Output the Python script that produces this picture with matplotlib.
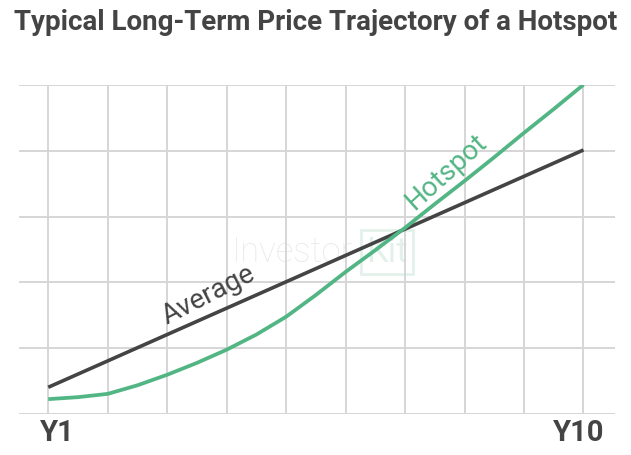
import numpy as np
import matplotlib
matplotlib.use('Agg')
import matplotlib.pyplot as plt

years = [1, 2, 3, 4, 5, 6, 7, 8, 9, 10]
average = [0.41, 0.81, 1.21, 1.61, 2.01, 2.41, 2.81, 3.21, 3.61, 4.01]
# hotspot at half-year steps
hotspot_x = [1, 1.5, 2, 2.5, 3, 3.5, 4, 4.5, 5, 5.5, 6, 6.5, 7, 7.5, 8, 8.5, 9, 9.5, 10]
hotspot = [0.23, 0.26, 0.31, 0.44, 0.60, 0.78, 0.98, 1.21, 1.48, 1.81, 2.16,
           2.49, 2.83, 3.19, 3.54, 3.90, 4.27, 4.63, 5.0]
end_labels = ['Y1', 'Y10']

dark = '#444444'
green = '#52b584'

plt.rcParams['font.family'] = ['Roboto', 'DejaVu Sans']

fig = plt.figure(figsize=(6.31, 4.55), dpi=100)
ax = fig.add_axes([19.3 / 631, 1 - 414.3 / 455, (615 - 19.3) / 631, (414.3 - 84.7) / 455])

ax.plot(years, average, color=dark, lw=2.6, solid_capstyle='butt', zorder=3)
ax.plot(hotspot_x, hotspot, color=green, lw=2.7, solid_capstyle='butt',
        solid_joinstyle='round', zorder=3)

ax.set_xlim(0.513, 10.53)
ax.set_ylim(0, 5)
ax.set_xticks(years)
ax.set_yticks(range(6))
ax.tick_params(length=0, labelbottom=False, labelleft=False)
ax.grid(True, color='#d6d6d6', lw=1.4, zorder=0)
for s in ax.spines.values():
    s.set_visible(False)

ax.text(1.16, -0.29, end_labels[0], ha='center', va='center', fontsize=21,
        fontweight='bold', color=dark)
ax.text(9.92, -0.29, end_labels[1], ha='center', va='center', fontsize=21,
        fontweight='bold', color=dark)

ax.text(3.69, 1.81, 'Average', rotation=27, ha='center', va='center',
        fontsize=20, color=dark, rotation_mode='anchor')
ax.text(7.70, 3.68, 'Hotspot', rotation=42, ha='center', va='center',
        fontsize=20, color=green, rotation_mode='anchor')

# faint watermark
ax.text(5.10, 2.46, 'Investor', ha='center', va='center', fontsize=25,
        color='#eaeaea', fontweight='light', zorder=1)
ax.text(6.69, 2.46, 'Kit', ha='center', va='center', fontsize=25,
        color='#e3f1ea', zorder=1,
        bbox=dict(boxstyle='square,pad=0.15', fc='none', ec='#e3f1ea', lw=2))

fig.text(0.5, 1 - 23 / 455, 'Typical Long-Term Price Trajectory of a Hotspot',
         ha='center', va='center', fontsize=20, fontweight='bold', color=dark)

fig.savefig('out.png', dpi=100)
